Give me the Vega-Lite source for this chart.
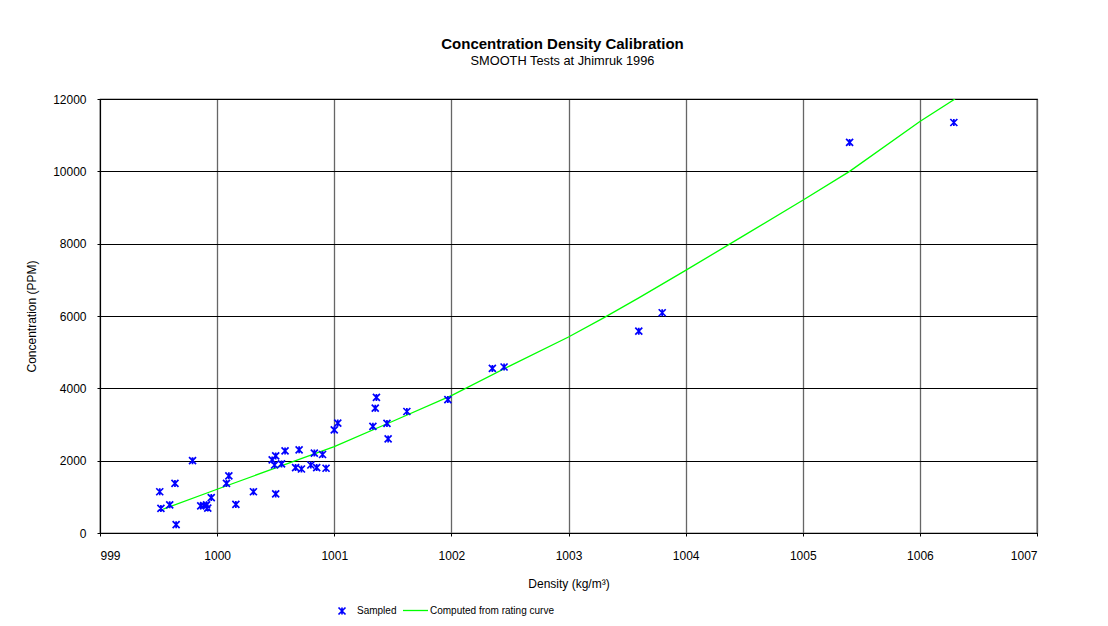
{
  "$schema": "https://vega.github.io/schema/vega-lite/v6.json",
  "width": 937,
  "height": 434,
  "autosize": {"type": "none"},
  "padding": {"left": 100, "top": 99, "right": 71, "bottom": 93},
  "background": "white",
  "title": {
    "text": "Concentration Density Calibration",
    "subtitle": "SMOOTH Tests at Jhimruk 1996",
    "anchor": "middle",
    "frame": "group",
    "dx": -6,
    "offset": 25,
    "font": "Liberation Sans",
    "fontSize": 15,
    "fontWeight": "bold",
    "color": "#000",
    "subtitleFont": "Liberation Sans",
    "subtitleFontSize": 12.8,
    "subtitleColor": "#000",
    "subtitlePadding": 3
  },
  "datasets": {
    "samples": [
      {"density": 999.51, "ppm": 1140},
      {"density": 999.52, "ppm": 680},
      {"density": 999.595, "ppm": 780},
      {"density": 999.64, "ppm": 1370},
      {"density": 999.65, "ppm": 230},
      {"density": 999.79, "ppm": 2000},
      {"density": 999.86, "ppm": 750},
      {"density": 999.885, "ppm": 760},
      {"density": 999.91, "ppm": 780},
      {"density": 999.92, "ppm": 690},
      {"density": 999.95, "ppm": 980},
      {"density": 1000.08, "ppm": 1370},
      {"density": 1000.1, "ppm": 1580},
      {"density": 1000.16, "ppm": 790},
      {"density": 1000.31, "ppm": 1140},
      {"density": 1000.47, "ppm": 2020},
      {"density": 1000.5, "ppm": 2130},
      {"density": 1000.49, "ppm": 1880},
      {"density": 1000.55, "ppm": 1910},
      {"density": 1000.5, "ppm": 1080},
      {"density": 1000.58, "ppm": 2270},
      {"density": 1000.67, "ppm": 1810},
      {"density": 1000.7, "ppm": 2300},
      {"density": 1000.72, "ppm": 1770},
      {"density": 1000.8, "ppm": 1880},
      {"density": 1000.83, "ppm": 2210},
      {"density": 1000.85, "ppm": 1810},
      {"density": 1000.9, "ppm": 2170},
      {"density": 1000.93, "ppm": 1790},
      {"density": 1001.0, "ppm": 2850},
      {"density": 1001.03, "ppm": 3040},
      {"density": 1001.33, "ppm": 2950},
      {"density": 1001.36, "ppm": 3750},
      {"density": 1001.35, "ppm": 3450},
      {"density": 1001.45, "ppm": 3030},
      {"density": 1001.46, "ppm": 2600},
      {"density": 1001.62, "ppm": 3360},
      {"density": 1001.97, "ppm": 3690},
      {"density": 1002.35, "ppm": 4550},
      {"density": 1002.45, "ppm": 4590},
      {"density": 1003.6, "ppm": 5580},
      {"density": 1003.8, "ppm": 6090},
      {"density": 1005.4, "ppm": 10800},
      {"density": 1006.29, "ppm": 11350}
    ],
    "curve": [
      {"density": 999.54, "ppm": 660},
      {"density": 1000.0, "ppm": 1210},
      {"density": 1000.5, "ppm": 1800},
      {"density": 1001.0, "ppm": 2390},
      {"density": 1001.5, "ppm": 3090},
      {"density": 1002.0, "ppm": 3800},
      {"density": 1002.5, "ppm": 4620},
      {"density": 1003.0, "ppm": 5420},
      {"density": 1003.3, "ppm": 5950},
      {"density": 1003.6, "ppm": 6500},
      {"density": 1004.0, "ppm": 7260},
      {"density": 1004.5, "ppm": 8230},
      {"density": 1005.0, "ppm": 9200},
      {"density": 1005.4, "ppm": 10000},
      {"density": 1006.0, "ppm": 11380},
      {"density": 1006.3, "ppm": 12000}
    ]
  },
  "encoding": {
    "x": {
      "field": "density",
      "type": "quantitative",
      "scale": {"domain": [999, 1007], "nice": false, "zero": false},
      "axis": {
        "title": "Density (kg/m³)",
        "values": [999, 1000, 1001, 1002, 1003, 1004, 1005, 1006, 1007],
        "format": "d",
        "gridColor": "#666",
        "gridWidth": 1.3,
        "labelPadding": 14,
        "titlePadding": 17
      }
    },
    "y": {
      "field": "ppm",
      "type": "quantitative",
      "scale": {"domain": [0, 12000], "nice": false},
      "axis": {
        "title": "Concentration (PPM)",
        "values": [0, 2000, 4000, 6000, 8000, 10000, 12000],
        "format": "d",
        "gridColor": "#000",
        "gridWidth": 1,
        "labelPadding": 11,
        "titlePadding": 14
      }
    }
  },
  "layer": [
    {
      "data": {"name": "curve"},
      "mark": {"type": "line", "strokeWidth": 1.3, "clip": true},
      "encoding": {
        "color": {
          "datum": "Computed from rating curve",
          "scale": {"range": ["#00ff00"]},
          "legend": {
            "title": null,
            "orient": "none",
            "legendX": 302,
            "legendY": 498,
            "padding": 0,
            "symbolType": "stroke",
            "symbolSize": 625,
            "symbolStrokeWidth": 1.3,
            "labelOffset": 1,
            "labelFont": "Liberation Sans",
            "labelFontSize": 10,
            "labelColor": "#000"
          }
        }
      }
    },
    {
      "data": {"name": "samples"},
      "mark": {
        "type": "point",
        "filled": false,
        "size": 49,
        "strokeWidth": 1.7,
        "opacity": 1,
        "color": "#0000ff"
      },
      "encoding": {
        "shape": {
          "datum": "Sampled",
          "scale": {"range": ["M-1,-1L1,1M-1,1L1,-1M0,-1L0,1"]},
          "legend": {
            "title": null,
            "orient": "none",
            "legendX": 237,
            "legendY": 507,
            "padding": 0,
            "symbolSize": 49,
            "symbolStrokeWidth": 1.7,
            "symbolStrokeColor": "#0000ff",
            "symbolFillColor": "transparent",
            "labelOffset": 10,
            "labelFont": "Liberation Sans",
            "labelFontSize": 10,
            "labelColor": "#000"
          }
        }
      }
    }
  ],
  "config": {
    "font": "Liberation Sans",
    "view": {"stroke": "#000", "strokeWidth": 1.2},
    "axis": {
      "labelFont": "Liberation Sans",
      "labelFontSize": 12,
      "labelColor": "#000",
      "titleFont": "Liberation Sans",
      "titleFontSize": 12,
      "titleFontWeight": "normal",
      "titleColor": "#000",
      "domainColor": "#000",
      "tickColor": "#000",
      "tickSize": 3,
      "gridOpacity": 1
    }
  }
}
